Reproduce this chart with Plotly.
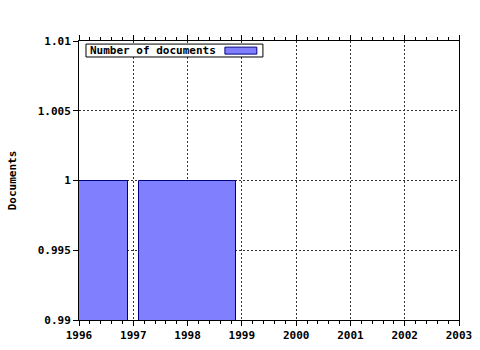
import plotly.graph_objects as go

years = [1996, 1998]
documents = [1, 1]
series_name = "Number of documents"
y_ticks = [0.99, 0.995, 1, 1.005, 1.01]
y_tick_labels = ["0.99", "0.995", "1", "1.005", "1.01"]

BOLD = dict(family="DejaVu Sans Mono", size=11, color="black", weight="bold")

fig = go.Figure()
fig.add_trace(go.Bar(
    x=years, y=documents, width=1.8, name=series_name,
    marker=dict(color="#8080ff", line=dict(color="#000080", width=1)),
    showlegend=False,
))

fig.update_layout(
    width=480, height=350,
    margin=dict(l=79, r=21, t=41, b=30),
    paper_bgcolor="white", plot_bgcolor="white",
    font=BOLD,
    xaxis=dict(
        range=[1996, 2003], dtick=1, tick0=1996, automargin=False,
        showline=True, linecolor="black", linewidth=1, mirror="ticks",
        ticks="outside", ticklen=5, tickcolor="black",
        showgrid=True, gridcolor="#333333", griddash="2px,2px", gridwidth=1,
        zeroline=False,
        tickfont=BOLD,
        minor=dict(dtick=0.2, ticks="outside", ticklen=3, tickcolor="black", showgrid=False),
    ),
    yaxis=dict(
        range=[0.99, 1.01], tickvals=y_ticks, ticktext=y_tick_labels, automargin=False,
        showline=True, linecolor="black", linewidth=1, mirror=True,
        ticks="outside", ticklen=5, tickcolor="black",
        showgrid=True, gridcolor="#333333", griddash="2px,2px", gridwidth=1,
        zeroline=False,
        tickfont=BOLD,
        title=dict(text="Documents", standoff=18, font=BOLD),
    ),
    bargap=0,
)

# legend box (text first, then swatch)
fig.add_shape(type="rect", xref="paper", yref="paper",
              x0=0.0184, x1=0.484, y0=0.9427, y1=0.989,
              line=dict(color="black", width=1), fillcolor="white", layer="above")
fig.add_shape(type="rect", xref="paper", yref="paper",
              x0=0.384, x1=0.468, y0=0.953, y1=0.978,
              line=dict(color="#000080", width=1), fillcolor="#8080ff", layer="above")
fig.add_annotation(text=series_name, xref="paper", yref="paper",
                   x=0.0237, y=0.966, xanchor="left", yanchor="middle", showarrow=False,
                   font=BOLD)

fig.write_html("out.html")
